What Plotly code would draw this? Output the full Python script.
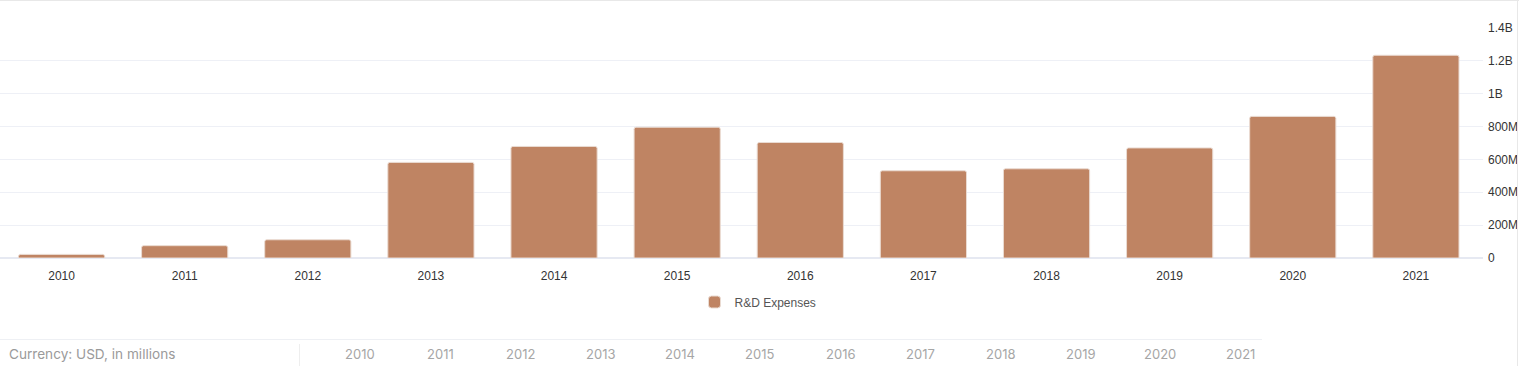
import plotly.graph_objects as go

years = ["2010", "2011", "2012", "2013", "2014", "2015", "2016", "2017", "2018", "2019", "2020", "2021"]
rd_expenses = [22e6, 75e6, 111e6, 582e6, 679e6, 796e6, 703e6, 531e6, 543e6, 670e6, 862e6, 1234e6]
series_name = "R&D Expenses"
y_tickvals = [0, 200e6, 400e6, 600e6, 800e6, 1000e6, 1200e6, 1400e6]
y_ticktext = ["0", "200M", "400M", "600M", "800M", "1B", "1.2B", "1.4B"]
footer_text = "Currency: USD, in millions"

W, H = 1519, 366
L, R, T, B = 0, 36, 28, 108
pw = W - L - R
ph = H - T - B

def px_x(x):
    return (x - L) / pw

def px_y(y):
    return (H - B - y) / ph

fig = go.Figure()
fig.add_trace(go.Bar(
    x=years, y=rd_expenses, name=series_name,
    marker=dict(color="#bf8463", line=dict(color="#eadbd2", width=1)),
    showlegend=True,
))

fig.update_layout(
    width=W, height=H,
    margin=dict(l=L, r=R, t=T, b=B),
    paper_bgcolor="white", plot_bgcolor="white",
    bargap=0.3, barcornerradius=2,
    font=dict(family="Liberation Sans, Arial, sans-serif", size=12, color="#333"),
    xaxis=dict(
        type="category", range=[-0.5, 11.545], showgrid=False, zeroline=False,
        showline=False, ticks="", ticklabelstandoff=9,
        tickfont=dict(size=12, color="#333333"),
    ),
    yaxis=dict(
        side="right", range=[0, 1.4e9], tickvals=y_tickvals, ticktext=y_ticktext,
        showgrid=True, gridcolor="#eef0f6", gridwidth=1, zeroline=True,
        zerolinecolor="#e6e9f2", showline=False, ticks="", ticklabelstandoff=4,
        tickfont=dict(size=12, color="#333333"),
    ),
    legend=dict(
        orientation="h", x=px_x(758), xanchor="center", y=px_y(302), yanchor="middle",
        font=dict(size=12, color="#555555"), itemwidth=30,
    ),
)

shapes = []
shapes.append(dict(type="line", xref="paper", yref="paper", x0=px_x(0), x1=px_x(W),
                   y0=px_y(0.5), y1=px_y(0.5), line=dict(color="#e8e8e8", width=1)))
shapes.append(dict(type="line", xref="paper", yref="paper", x0=px_x(1517.5), x1=px_x(1517.5),
                   y0=px_y(0), y1=px_y(H), line=dict(color="#e8e8e8", width=1)))
shapes.append(dict(type="line", xref="paper", yref="paper", x0=px_x(0), x1=px_x(1262),
                   y0=px_y(339.5), y1=px_y(339.5), line=dict(color="#eef0f4", width=1)))
shapes.append(dict(type="line", xref="paper", yref="paper", x0=px_x(299.5), x1=px_x(299.5),
                   y0=px_y(344), y1=px_y(H), line=dict(color="#eeeeee", width=1)))
fig.update_layout(shapes=shapes)

annotations = [dict(
    text=footer_text, xref="paper", yref="paper", x=px_x(7), y=px_y(354),
    xanchor="left", yanchor="middle", showarrow=False,
    font=dict(family="Inter, Liberation Sans, sans-serif", size=13.6, color="#9a9a9a"),
)]
for i, yr in enumerate(years):
    annotations.append(dict(
        text=yr, xref="paper", yref="paper", x=px_x(360 + i * 80), y=px_y(354),
        xanchor="center", yanchor="middle", showarrow=False,
        font=dict(family="Inter, Liberation Sans, sans-serif", size=13, color="#a6a6a6"),
    ))
fig.update_layout(annotations=annotations)

fig.write_html("out.html", config={"displayModeBar": False},
               post_script="document.body.style.margin='0';")
